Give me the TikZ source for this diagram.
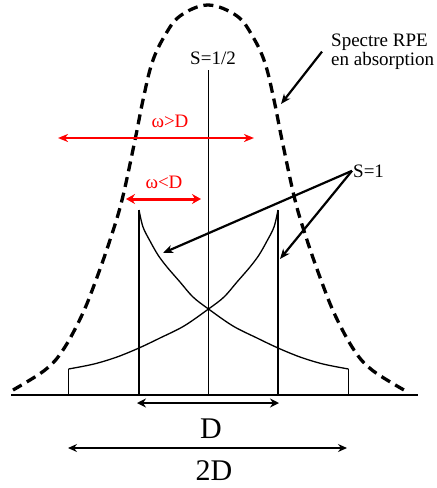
\documentclass[tikz,border=0pt]{standalone}
\usepackage{fontspec}
\setmainfont{Liberation Serif}
\usetikzlibrary{arrows.meta}
\begin{document}
\begin{tikzpicture}[x=1pt,y=-1pt,
  lbl/.style={inner sep=0pt, font=\fontsize{19}{15}\selectfont},
  big/.style={inner sep=0pt, font=\fontsize{30}{30}\selectfont},
  tipb/.style={},
  arr/.style={line width=2.2pt, -{Stealth[length=10pt,width=8pt,inset=3pt]}},
  dimthick/.style={line width=2.7pt, {Stealth[length=9pt,width=9pt,inset=3pt]}-{Stealth[length=9pt,width=9pt,inset=3pt]}},
  dimthin/.style={line width=2pt, {Stealth[length=9pt,width=8pt,inset=3pt]}-{Stealth[length=9pt,width=8pt,inset=3pt]}},
  redthin/.style={red, line width=2pt, {Stealth[length=10pt,width=8pt,inset=3pt]}-{Stealth[length=10pt,width=8pt,inset=3pt]}},
  redthick/.style={red, line width=3pt, {Stealth[length=9pt,width=10pt,inset=3pt]}-{Stealth[length=9pt,width=10pt,inset=3pt]}},
  gauss/.style={line width=3.3pt, dash pattern=on 10pt off 6pt},
  fine/.style={line width=1.3pt},
  bar/.style={line width=2pt}
]
\useasboundingbox (0,0) rectangle (437,488);

% dashed EPR absorption envelope
\draw[gauss] plot[smooth, tension=0.6] coordinates {
 (13,390) (45,370) (63,350) (82,315) (96,280) (110,240) (122,200)
 (135,140) (143,100) (152,63) (164,37) (180,16) (208,5) (237,16) (253,37)
 (265,63) (274,100) (282,140) (295,200) (307,240) (321,280) (335,315)
 (354,350) (372,370) (404,390)};

% baseline
\coordinate (b0) at (11,395);
\coordinate (b1) at (418,395);
\draw[bar] (b0) -- (b1);

% vertical lines
\coordinate (ctop) at (208.5,70);
\coordinate (cbot) at (208.5,395);
\draw[line width=1.2pt] (ctop) -- (cbot);
\coordinate (ltop) at (139,210);
\coordinate (lbot) at (139,395);
\coordinate (rtop) at (278,210);
\coordinate (rbot) at (278,395);
\draw[bar] (ltop) -- (lbot);
\draw[bar] (rtop) -- (rbot);
\coordinate (lltop) at (68.5,369);
\coordinate (llbot) at (68.5,395);
\coordinate (rrtop) at (348.5,369);
\coordinate (rrbot) at (348.5,395);
\draw[fine] (lltop) -- (llbot);
\draw[fine] (rrtop) -- (rrbot);

% S=1 curves
\draw[fine] plot[smooth, tension=0.55] coordinates {
 (139,210) (143,227) (150,241) (158,255) (167,267) (180,282) (193,297)
 (208.5,309) (233,326) (257,338) (278,348) (300,357) (323,364) (348.5,369)};
\draw[fine] plot[smooth, tension=0.55] coordinates {
 (278,210) (274,227) (267,241) (259,255) (250,267) (237,282) (224,297)
 (208.5,309) (184,326) (160,338) (139,348) (117,357) (94,364) (68.5,369)};

% labels
\node[lbl, anchor=base] (shalf) at (213,64) {S=1/2};
\node[lbl, anchor=north west, align=left] (spec) at (331,34) {Spectre RPE\\en absorption};
\node[lbl, anchor=base west, inner sep=1pt] (s1) at (352,177) {S=1};
\node[lbl, red, anchor=base] (wgt) at (170,127) {ω>D};
\node[lbl, red, anchor=base] (wlt) at (164,188) {ω<D};
\node[big, anchor=base] (dlab) at (211,438) {D};
\node[big, anchor=base] (ddlab) at (214,480) {2D};

% pointer arrows
\coordinate (specTip) at (281,104);
\draw[arr] ([xshift=-9pt]spec.west) -- (specTip);
\coordinate (s1TipA) at (163,253);
\coordinate (s1TipB) at (280,259);
\draw[arr] (s1.west) -- (s1TipA);
\draw[arr] (s1.west) -- (s1TipB);

% red frequency arrows
\coordinate (wg0) at (58,138);
\coordinate (wg1) at (254,138);
\draw[redthin] (wg0) -- (wg1);
\coordinate (wl0) at (126,199);
\coordinate (wl1) at (201,199);
\draw[redthick] (wl0) -- (wl1);

% dimension arrows
\coordinate (d0) at (137,403);
\coordinate (d1) at (279,403);
\draw[dimthick] (d0) -- (d1);
\coordinate (dd0) at (68,448);
\coordinate (dd1) at (347,448);
\draw[dimthin] (dd0) -- (dd1);
\end{tikzpicture}
\end{document}
